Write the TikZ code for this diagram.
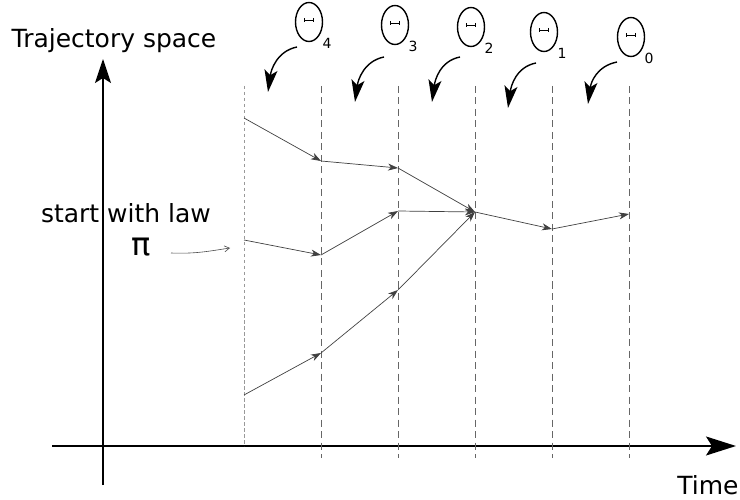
\documentclass[tikz,border=0pt]{standalone}
\usepackage{fontspec}
\setmainfont{DejaVu Sans}
\usetikzlibrary{arrows.meta,shapes.geometric}

\tikzset{
  axis/.style={line width=1.4pt},
  timeline/.style={dash pattern=on 7pt off 4.5pt, black!60, line width=0.9pt},
  firstline/.style={dash pattern=on 3.5pt off 2.5pt, black!40, line width=0.8pt},
  jump/.style={-{Stealth[length=10pt,width=7pt,inset=3pt]}, line width=0.7pt, black!75},
  kernel/.style={-{Stealth[length=22pt,width=13pt,inset=5pt]}, line width=1.4pt},
  theta/.style={ellipse, draw, line width=1.4pt, minimum width=27pt, minimum height=39pt, inner sep=0pt},
  sub/.style={font=\fontsize{14}{16}\selectfont, inner sep=0pt},
}

\begin{document}
\begin{tikzpicture}[x=1pt, y=-1pt, font=\fontsize{25}{30}\selectfont]
\useasboundingbox (0,0) rectangle (740,500);

% axes
\coordinate (ybot) at (103,485);
\coordinate (ytop) at (103,59);
\coordinate (xleft) at (52,446);
\coordinate (xright) at (736,446);
\draw[axis, -{Stealth[length=24pt,width=16pt,inset=5pt]}] (ybot) -- (ytop);
\draw[axis, -{Stealth[length=30pt,width=19pt,inset=6pt]}] (xleft) -- (xright);
\node[anchor=base] (ylabel) at (114,48) {Trajectory space};
\node[anchor=base] (xlabel) at (708,494) {Time};

% time lines
\coordinate (top0) at (244,86);
\coordinate (bot0) at (244,446);
\draw[firstline] (top0) -- (bot0);
\foreach \x [count=\i] in {321,398,475,552,629} {
  \coordinate (top\i) at (\x,86);
  \coordinate (bot\i) at (\x,458);
  \draw[timeline] (top\i) -- (bot\i);
}

% trajectories
\coordinate (a0) at (244,118);
\coordinate (a1) at (321,161);
\coordinate (a2) at (398,168);
\coordinate (a3) at (475,212);
\coordinate (a4) at (552,229);
\coordinate (a5) at (629,214);
\coordinate (b0) at (244,240);
\coordinate (b1) at (321,255);
\coordinate (b2) at (398,211);
\coordinate (c0) at (244,395);
\coordinate (c1) at (321,353);
\coordinate (c2) at (398,290);
\foreach \p/\q in {a0/a1,a1/a2,a2/a3,a3/a4,a4/a5,b0/b1,b1/b2,b2/a3,c0/c1,c1/c2,c2/a3}
  \draw[jump] (\p) -- (\q);

% initial law
\node[anchor=base] (start) at (126,223) {start with law};
\node[anchor=base, font=\fontsize{32}{36}\selectfont] (pi) at (141,255) {π};
\coordinate (pifrom) at (171,253);
\coordinate (pito) at (230,248);
\draw[line width=0.6pt, black!70, -{Straight Barb[length=5pt,width=6pt]}]
  (pifrom) .. controls +(25,1) and +(-20,3) .. (pito);

% kernels
\foreach \cx/\cy/\n/\sx/\sy/\ex/\ey in {309/22/4/297/47/268/92, 395/25/3/384/57/355/102,
    471/27/2/460/57/432/102, 544/32/1/536/63/508/108, 631/37/0/617/62/588/104} {
  \node[theta] (th\n) at (\cx,\cy) {};
  \draw[line width=0.9pt, {Bar[width=4pt]}-{Bar[width=4pt]}]
    ([xshift=-5pt,yshift=2pt]th\n.center) -- ([xshift=5pt,yshift=2pt]th\n.center);
  \node[sub] (sub\n) at (\cx+18,\cy+21) {\n};
  \coordinate (kfrom\n) at (\sx,\sy);
  \coordinate (kto\n) at (\ex,\ey);
  \draw[kernel] (kfrom\n) .. controls +(-20,4) and +(3,-22) .. (kto\n);
}

\end{tikzpicture}
\end{document}
